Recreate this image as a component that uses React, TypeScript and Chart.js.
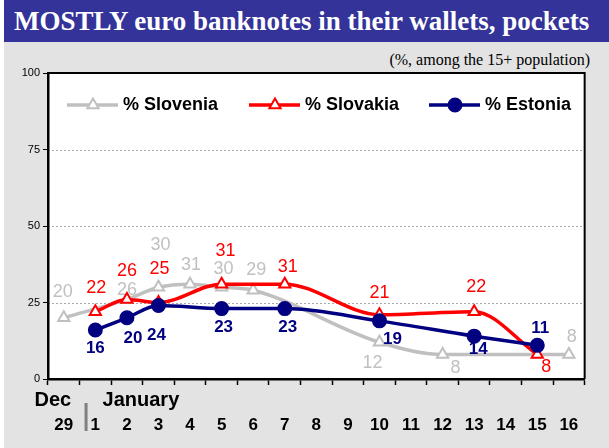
import React, { useEffect, useRef } from 'react';
import { Chart, registerables } from 'chart.js';

Chart.register(...registerables);

// ---------- data ----------
const DAYS = ['29', '1', '2', '3', '4', '5', '6', '7', '8', '9', '10', '11', '12', '13', '14', '15', '16'];
const MONTHS = ['Dec', 'January'];
const Y_TICKS = [0, 25, 50, 75, 100];
const SERIES_NAMES = ['% Slovenia', '% Slovakia', '% Estonia'];
const SLOVENIA = [20, null, 26, 30, 31, 30, 29, null, null, null, 12, null, 8, null, null, null, 8];
const SLOVAKIA = [null, 22, 26, 25, null, 31, null, 31, null, null, 21, null, null, 22, null, 8, null];
const ESTONIA = [null, 16, 20, 24, null, 23, null, 23, null, null, 19, null, null, 14, null, 11, null];
const TITLE = 'MOSTLY euro banknotes in their wallets, pockets';
const SUBTITLE = '(%, among the 15+ population)';

// ---------- styles ----------
const COLORS = ['#c0c0c0', '#ff0000', '#000080'];
const LABEL_FONTS = ['18px "Liberation Sans", Arial', '18px "Liberation Sans", Arial', 'bold 17px "Liberation Sans", Arial'];
// label offsets (dx, dy) from the point, per series, keyed by category index
const LABEL_OFFSETS: Record<number, [number, number]>[] = [
  { 0: [-1, -26], 2: [0, -9], 3: [2, -42], 4: [1, -19], 5: [2, -18], 6: [3, -20], 10: [-7, 21], 12: [13, 14], 16: [3, -17] },
  { 1: [1, -24], 2: [0, -28], 3: [1, -33], 5: [4, -33], 7: [3, -17], 10: [0, -22], 13: [2, -25], 15: [9, 13] },
  { 1: [0, 18], 2: [6, 21], 3: [-2, 30], 5: [2, 19], 7: [3, 19], 10: [13, 18], 13: [4, 13], 15: [3, -17] },
];
const LEGEND_X = [67, 249, 429];

function drawMarker(ctx: CanvasRenderingContext2D, style: string, x: number, y: number, r: number, color: string) {
  ctx.save();
  ctx.lineWidth = 2;
  ctx.strokeStyle = color;
  ctx.beginPath();
  if (style === 'triangle') {
    for (let k = 0; k < 3; k++) {
      const a = -Math.PI / 2 + (k * 2 * Math.PI) / 3;
      const px = x + Math.cos(a) * r;
      const py = y + Math.sin(a) * r;
      if (k === 0) ctx.moveTo(px, py);
      else ctx.lineTo(px, py);
    }
    ctx.closePath();
    ctx.fillStyle = '#ffffff';
  } else {
    ctx.arc(x, y, r, 0, Math.PI * 2);
    ctx.fillStyle = color;
  }
  ctx.fill();
  ctx.stroke();
  ctx.restore();
}

const customPlugin = {
  id: 'customDecor',
  beforeDraw(chart: any) {
    const { ctx, chartArea: a } = chart;
    ctx.save();
    ctx.fillStyle = '#ffffff';
    ctx.fillRect(a.left, a.top, a.right - a.left, a.bottom - a.top);
    const y = chart.scales.y;
    ctx.strokeStyle = '#a8a8a8';
    ctx.lineWidth = 1;
    ctx.setLineDash([2, 2]);
    for (const v of Y_TICKS) {
      if (v === Y_TICKS[0] || v === Y_TICKS[Y_TICKS.length - 1]) continue;
      const py = Math.round(y.getPixelForValue(v)) + 0.5;
      ctx.beginPath();
      ctx.moveTo(a.left, py);
      ctx.lineTo(a.right, py);
      ctx.stroke();
    }
    ctx.restore();
  },
  afterDatasetDraw(chart: any, args: any) {
    const i = args.index;
    const { ctx } = chart;
    const meta = chart.getDatasetMeta(i);
    const data = chart.data.datasets[i].data;
    ctx.save();
    ctx.font = LABEL_FONTS[i];
    ctx.fillStyle = COLORS[i];
    ctx.textAlign = 'center';
    ctx.textBaseline = 'middle';
    meta.data.forEach((pt: any, j: number) => {
      const v = data[j];
      if (v === null || v === undefined) return;
      const off = LABEL_OFFSETS[i][j] || [0, -20];
      ctx.fillText(String(v), pt.x + off[0], pt.y + off[1]);
    });
    ctx.restore();
  },
  afterDraw(chart: any) {
    const { ctx, chartArea: a } = chart;
    ctx.save();
    // top & right frame
    ctx.strokeStyle = '#000';
    ctx.lineWidth = 2;
    ctx.beginPath();
    ctx.moveTo(a.left, a.top);
    ctx.lineTo(a.right, a.top);
    ctx.lineTo(a.right, a.bottom);
    ctx.stroke();

    // legend
    const ly = a.top + 32;
    chart.data.datasets.forEach((ds: any, i: number) => {
      const lx = LEGEND_X[i];
      ctx.strokeStyle = COLORS[i];
      ctx.lineWidth = 3.5;
      ctx.beginPath();
      ctx.moveTo(lx, ly);
      ctx.lineTo(lx + 51, ly);
      ctx.stroke();
      drawMarker(ctx, ds.pointStyle, lx + 26, ly, 6.5, COLORS[i]);
      ctx.fillStyle = '#000';
      ctx.font = 'bold 18px "Liberation Sans", Arial';
      ctx.textAlign = 'left';
      ctx.textBaseline = 'middle';
      ctx.fillText(ds.label, lx + 56, ly);
    });

    // month labels and separator
    const x = chart.scales.x;
    const x0 = x.getPixelForValue(0);
    const x1 = x.getPixelForValue(1);
    const boundary = (x0 + x1) / 2;
    ctx.fillStyle = '#000';
    ctx.font = 'bold 20px "Liberation Sans", Arial';
    ctx.textBaseline = 'middle';
    ctx.textAlign = 'center';
    ctx.fillText(MONTHS[0], x0 - 11, a.bottom + 21);
    ctx.textAlign = 'left';
    ctx.fillText(MONTHS[1], boundary + 23, a.bottom + 21);
    ctx.fillStyle = '#808080';
    ctx.fillRect(boundary + 5, a.bottom + 24, 3, 28);
    ctx.restore();
  },
};

export default function App() {
  const ref = useRef<HTMLCanvasElement>(null);
  useEffect(() => {
    if (!ref.current) return;
    const mk = (i: number, data: (number | null)[], style: string, order: number) => ({
      label: SERIES_NAMES[i],
      data,
      borderColor: COLORS[i],
      borderWidth: 3.5,
      pointStyle: style,
      pointRadius: 6.5,
      pointBorderWidth: 2,
      pointBorderColor: COLORS[i],
      pointBackgroundColor: style === 'circle' ? COLORS[i] : '#ffffff',
      cubicInterpolationMode: 'monotone',
      spanGaps: true,
      fill: false,
      order,
    });
    const chart = new Chart(ref.current, {
      type: 'line',
      data: {
        labels: DAYS,
        datasets: [
          mk(0, SLOVENIA, 'triangle', 3),
          mk(1, SLOVAKIA, 'triangle', 2),
          mk(2, ESTONIA, 'circle', 1),
        ] as any,
      },
      options: {
        animation: false,
        responsive: false,
        devicePixelRatio: 1,
        layout: { padding: { left: 0, right: 23, top: 73, bottom: 0 } },
        plugins: { legend: { display: false }, tooltip: { enabled: false }, title: { display: false } },
        scales: {
          x: {
            type: 'category',
            offset: true,
            grid: { display: true, offset: true, drawOnChartArea: false, drawTicks: true, tickLength: 6, tickColor: '#000', tickWidth: 1.5 },
            border: { display: true, color: '#000', width: 2.5 },
            ticks: { color: '#000', font: { family: '"Liberation Sans", Arial', size: 17, weight: 'bold' }, padding: 30, maxRotation: 0, autoSkip: false },
            afterFit: (s: any) => { s.height = 69; },
          },
          y: {
            min: 0,
            max: 100,
            grid: { display: true, drawOnChartArea: false, drawTicks: true, tickLength: 5, tickColor: '#000', tickWidth: 1 },
            border: { display: true, color: '#000', width: 2.5 },
            ticks: { stepSize: 25, color: '#000', font: { family: '"Liberation Sans", Arial', size: 11 }, padding: 3 },
            afterFit: (s: any) => { s.width = 48; },
          },
        },
      } as any,
      plugins: [customPlugin],
    });
    return () => chart.destroy();
  }, []);

  return (
    <div style={{ position: 'absolute', left: 0, top: 0, width: 609, height: 448, background: '#ffffff', overflow: 'hidden' }}>
      <div style={{ position: 'absolute', left: 4, top: 0, width: 605, height: 448, background: '#e3e3e3' }} />
      <div
        style={{
          position: 'absolute', left: 4, top: 0, width: 605, height: 42, background: '#333399', color: '#ffffff',
          fontFamily: '"Liberation Serif", "Times New Roman", serif', fontWeight: 'bold', fontSize: 27, lineHeight: '42px',
          paddingLeft: 10, boxSizing: 'border-box', whiteSpace: 'nowrap',
        }}
      >
        {TITLE}
      </div>
      <div
        style={{
          position: 'absolute', right: 19, top: 51, fontFamily: '"Liberation Serif", "Times New Roman", serif', fontSize: 16,
          color: '#000', whiteSpace: 'nowrap',
        }}
      >
        {SUBTITLE}
      </div>
      <canvas ref={ref} width={609} height={448} style={{ position: 'absolute', left: 0, top: 0, width: 609, height: 448 }} />
    </div>
  );
}
